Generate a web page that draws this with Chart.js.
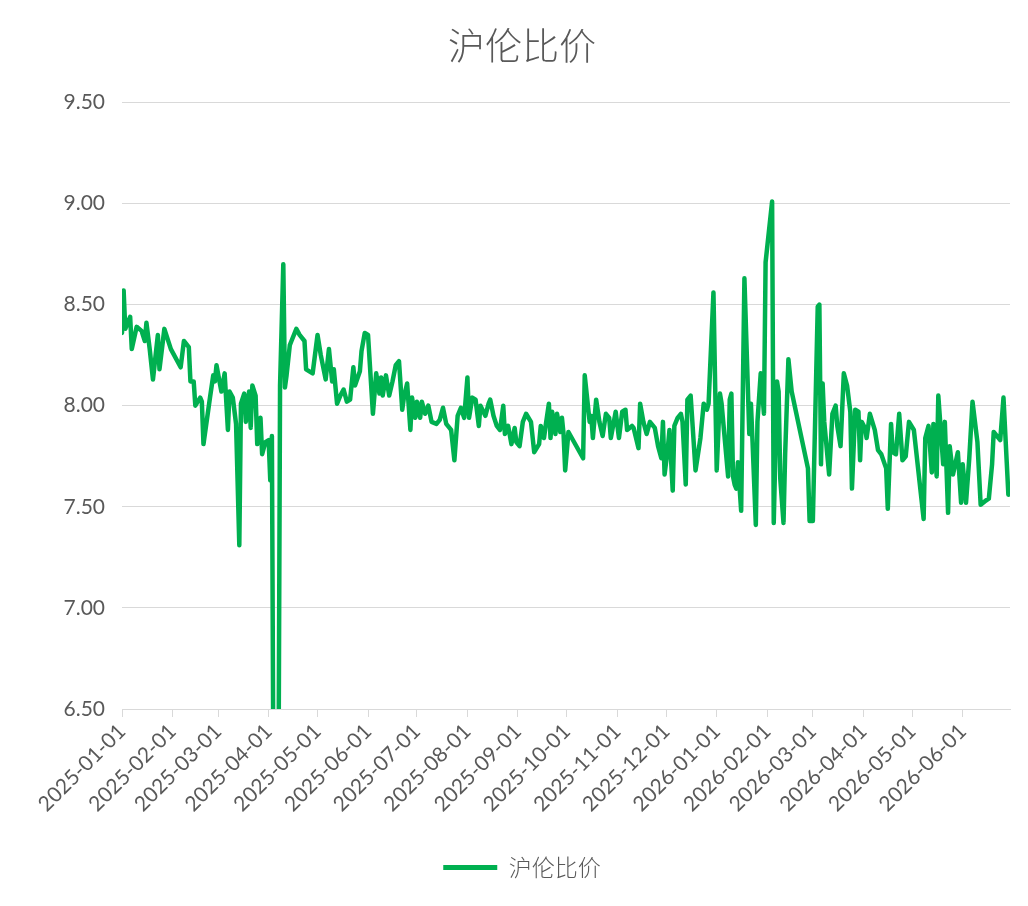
<!DOCTYPE html>
<html>
<head>
<meta charset="utf-8">
<script src="https://cdn.jsdelivr.net/npm/chart.js@4"></script>
<style>
  html, body { margin: 0; padding: 0; background: #fff; }
  #wrap { width: 1028px; height: 906px; position: relative; }
</style>
</head>
<body>
<div id="wrap"><canvas id="chart"></canvas></div>
<script>
// 日期 (trading days)
const dates = [
  "2025-01-01","2025-01-02","2025-01-03","2025-01-06","2025-01-07","2025-01-10","2025-01-13","2025-01-15","2025-01-16","2025-01-18","2025-01-20","2025-01-23","2025-01-24","2025-01-27","2025-01-31",
  "2025-02-06","2025-02-08","2025-02-11","2025-02-12","2025-02-14","2025-02-15","2025-02-18","2025-02-19","2025-02-20","2025-02-24","2025-02-26","2025-02-27","2025-02-28",
  "2025-03-03","2025-03-05","2025-03-07","2025-03-08","2025-03-10","2025-03-12","2025-03-14","2025-03-15","2025-03-17","2025-03-18","2025-03-20","2025-03-21","2025-03-22","2025-03-24","2025-03-25","2025-03-27","2025-03-28","2025-03-30",
  "2025-04-01","2025-04-02","2025-04-03","2025-04-04","2025-04-07","2025-04-08","2025-04-10","2025-04-11","2025-04-12","2025-04-14","2025-04-15","2025-04-18","2025-04-20","2025-04-23","2025-04-24","2025-04-26","2025-04-28",
  "2025-05-01","2025-05-03","2025-05-06","2025-05-08","2025-05-10","2025-05-11","2025-05-13","2025-05-15","2025-05-17","2025-05-19","2025-05-21","2025-05-23","2025-05-24","2025-05-27","2025-05-28","2025-05-30",
  "2025-06-01","2025-06-04","2025-06-05","2025-06-06","2025-06-08","2025-06-09","2025-06-10","2025-06-12","2025-06-14","2025-06-16","2025-06-18","2025-06-20","2025-06-22","2025-06-23","2025-06-25","2025-06-27","2025-06-28","2025-06-30",
  "2025-07-01","2025-07-03","2025-07-04","2025-07-06","2025-07-08","2025-07-10","2025-07-13","2025-07-15","2025-07-17","2025-07-19","2025-07-21","2025-07-22","2025-07-24","2025-07-26","2025-07-28","2025-07-30",
  "2025-08-01","2025-08-02","2025-08-04","2025-08-06","2025-08-08","2025-08-09","2025-08-12","2025-08-14","2025-08-15","2025-08-17","2025-08-19","2025-08-21","2025-08-23","2025-08-24","2025-08-26","2025-08-28","2025-08-30","2025-08-31",
  "2025-09-02","2025-09-04","2025-09-06","2025-09-09","2025-09-11","2025-09-14","2025-09-15","2025-09-17","2025-09-18","2025-09-20","2025-09-21","2025-09-22","2025-09-24","2025-09-25","2025-09-27","2025-09-28","2025-09-29","2025-09-30",
  "2025-10-02","2025-10-11","2025-10-12","2025-10-15","2025-10-16","2025-10-17","2025-10-19","2025-10-21","2025-10-23","2025-10-25","2025-10-27","2025-10-28","2025-10-31",
  "2025-11-02","2025-11-04","2025-11-06","2025-11-07","2025-11-10","2025-11-11","2025-11-14","2025-11-15","2025-11-17","2025-11-19","2025-11-21","2025-11-24","2025-11-26","2025-11-28","2025-11-29","2025-11-30",
  "2025-12-02","2025-12-03","2025-12-05","2025-12-06","2025-12-08","2025-12-10","2025-12-11","2025-12-13","2025-12-14","2025-12-16","2025-12-19","2025-12-22","2025-12-24","2025-12-26","2025-12-27","2025-12-30",
  "2026-01-01","2026-01-03","2026-01-04","2026-01-08","2026-01-09","2026-01-10","2026-01-11","2026-01-12","2026-01-13","2026-01-14","2026-01-16","2026-01-18","2026-01-21","2026-01-22","2026-01-23","2026-01-25","2026-01-26","2026-01-28","2026-01-30","2026-01-31",
  "2026-02-04","2026-02-05","2026-02-07","2026-02-08","2026-02-09","2026-02-11","2026-02-12","2026-02-14","2026-02-16","2026-02-26","2026-02-27",
  "2026-03-01","2026-03-04","2026-03-05","2026-03-06","2026-03-07","2026-03-08","2026-03-11","2026-03-13","2026-03-15","2026-03-16","2026-03-18","2026-03-20","2026-03-22","2026-03-24","2026-03-25","2026-03-27","2026-03-29","2026-03-30","2026-03-31",
  "2026-04-02","2026-04-03","2026-04-05","2026-04-08","2026-04-10","2026-04-12","2026-04-15","2026-04-16","2026-04-18","2026-04-19","2026-04-21","2026-04-23","2026-04-25","2026-04-27","2026-04-29",
  "2026-05-02","2026-05-08","2026-05-09","2026-05-11","2026-05-13","2026-05-14","2026-05-16","2026-05-17","2026-05-20","2026-05-21","2026-05-23","2026-05-24","2026-05-26","2026-05-29","2026-05-31",
  "2026-06-01","2026-06-03","2026-06-05","2026-06-07","2026-06-10","2026-06-12","2026-06-15","2026-06-17","2026-06-19","2026-06-20","2026-06-24","2026-06-26","2026-06-28","2026-06-29"
];

// 沪伦比价
const ratio = [
  8.36,8.57,8.38,8.44,8.28,8.39,8.37,8.32,8.41,8.28,8.13,8.35,8.18,8.38,8.28,
  8.19,8.32,8.29,8.12,8.12,8.00,8.04,8.02,7.81,8.04,8.15,8.12,8.20,
  8.07,8.16,7.88,8.07,8.04,7.91,7.31,8.01,8.06,7.92,8.07,7.89,8.10,8.05,7.81,7.94,7.76,7.82,
  7.83,7.63,7.85,6.00,6.00,8.10,8.70,8.09,8.15,8.30,8.32,8.38,8.35,8.32,8.18,8.17,8.16,
  8.35,8.25,8.13,8.28,8.12,8.18,8.01,8.05,8.08,8.02,8.03,8.19,8.10,8.17,8.27,8.36,
  8.35,7.96,8.06,8.16,8.06,8.14,8.05,8.15,8.05,8.12,8.20,8.22,7.98,8.04,8.11,7.88,8.04,7.94,
  8.02,7.94,8.02,7.96,8.00,7.92,7.91,7.93,7.99,7.91,7.89,7.88,7.73,7.95,7.99,7.94,
  8.14,7.94,8.04,8.03,7.90,8.00,7.95,8.01,8.03,7.95,7.90,7.88,8.00,7.86,7.90,7.81,7.89,7.82,
  7.80,7.92,7.96,7.92,7.77,7.81,7.90,7.84,7.90,8.01,7.84,7.97,7.86,7.96,7.87,7.94,7.86,7.68,
  7.87,7.74,8.15,7.92,7.95,7.84,8.03,7.92,7.85,7.96,7.94,7.84,7.97,
  7.84,7.97,7.98,7.88,7.90,7.89,7.79,8.01,7.92,7.86,7.92,7.89,7.80,7.74,7.92,7.66,
  7.79,7.88,7.58,7.90,7.94,7.96,7.92,7.61,8.03,8.05,7.68,7.84,8.01,7.98,8.01,8.56,
  7.68,8.06,8.01,7.65,8.03,8.06,7.65,7.61,7.59,7.72,7.48,8.63,7.86,8.01,7.82,7.41,7.92,8.16,7.96,8.71,
  9.01,7.42,8.12,8.07,7.64,7.42,7.76,8.23,8.07,7.69,7.43,
  7.43,8.49,8.50,7.71,8.11,7.92,7.66,7.96,8.00,7.90,7.80,8.16,8.10,7.97,7.59,7.98,7.97,7.73,7.92,
  7.89,7.84,7.96,7.88,7.78,7.76,7.69,7.49,7.91,7.77,7.76,7.96,7.73,7.75,7.92,
  7.88,7.44,7.84,7.90,7.67,7.91,7.65,8.05,7.71,7.92,7.47,7.80,7.66,7.77,7.52,
  7.71,7.52,7.74,8.02,7.82,7.51,7.53,7.54,7.71,7.87,7.83,8.04,7.72,7.56
];

// x axis: month ticks
const monthTicks = [
  "2025-01-01","2025-02-01","2025-03-01","2025-04-01","2025-05-01","2025-06-01",
  "2025-07-01","2025-08-01","2025-09-01","2025-10-01","2025-11-01","2025-12-01",
  "2026-01-01","2026-02-01","2026-03-01","2026-04-01","2026-05-01","2026-06-01"
];
const axisEnd = "2026-06-30";

const base = Date.parse("2025-01-01");
const dayOf = s => Math.round((Date.parse(s) - base) / 86400000);

const green = "#00B050";
const grey = "#595959";
const cjk = "'Noto Sans CJK SC', 'Noto Sans', sans-serif";
const num = "Lato, 'Noto Sans', sans-serif";

const points = dates.map((d, i) => ({ x: dayOf(d), y: ratio[i] }));

new Chart(document.getElementById("chart"), {
  type: "line",
  data: {
    datasets: [{
      label: "沪伦比价",
      data: points,
      borderColor: green,
      backgroundColor: green,
      borderWidth: 4.5,
      pointRadius: 0,
      tension: 0,
      borderJoinStyle: "round",
      borderCapStyle: "round"
    }]
  },
  options: {
    responsive: true,
    maintainAspectRatio: false,
    animation: false,
    layout: { padding: { left: 34, right: 18, top: 0, bottom: 17 } },
    plugins: {
      title: {
        display: true,
        text: "沪伦比价",
        color: grey,
        font: { family: cjk, size: 37, weight: 300 },
        padding: { top: 24, bottom: 34 }
      },
      legend: {
        position: "bottom",
        labels: {
          color: grey,
          font: { family: cjk, size: 23, weight: 300 },
          boxWidth: 54,
          boxHeight: 5,
          padding: 10,
          generateLabels: (chart) => Chart.defaults.plugins.legend.labels.generateLabels(chart)
            .map(l => Object.assign(l, { lineWidth: 0, fillStyle: green }))
        }
      },
      tooltip: { enabled: false }
    },
    scales: {
      x: {
        type: "linear",
        min: 0,
        max: dayOf(axisEnd),
        afterBuildTicks: (s) => { s.ticks = monthTicks.map(t => ({ value: dayOf(t) })); },
        afterFit: (s) => { s.height = 137; },
        ticks: {
          autoSkip: false,
          maxRotation: 45,
          minRotation: 45,
          padding: 2,
          color: grey,
          font: { family: num, size: 21 },
          callback: (v) => {
            const i = monthTicks.findIndex(t => dayOf(t) === v);
            return i >= 0 ? monthTicks[i] : "";
          }
        },
        grid: { drawOnChartArea: false, drawTicks: true, tickLength: 8, color: "#d9d9d9" },
        border: { color: "#d9d9d9" }
      },
      y: {
        min: 6.5,
        max: 9.5,
        afterFit: (s) => { s.width = 88; },
        ticks: {
          stepSize: 0.5,
          padding: 17,
          color: grey,
          font: { family: num, size: 21 },
          callback: (v) => v.toFixed(2)
        },
        grid: { color: "#d9d9d9", drawTicks: false },
        border: { display: false }
      }
    }
  }
});
</script>
</body>
</html>
